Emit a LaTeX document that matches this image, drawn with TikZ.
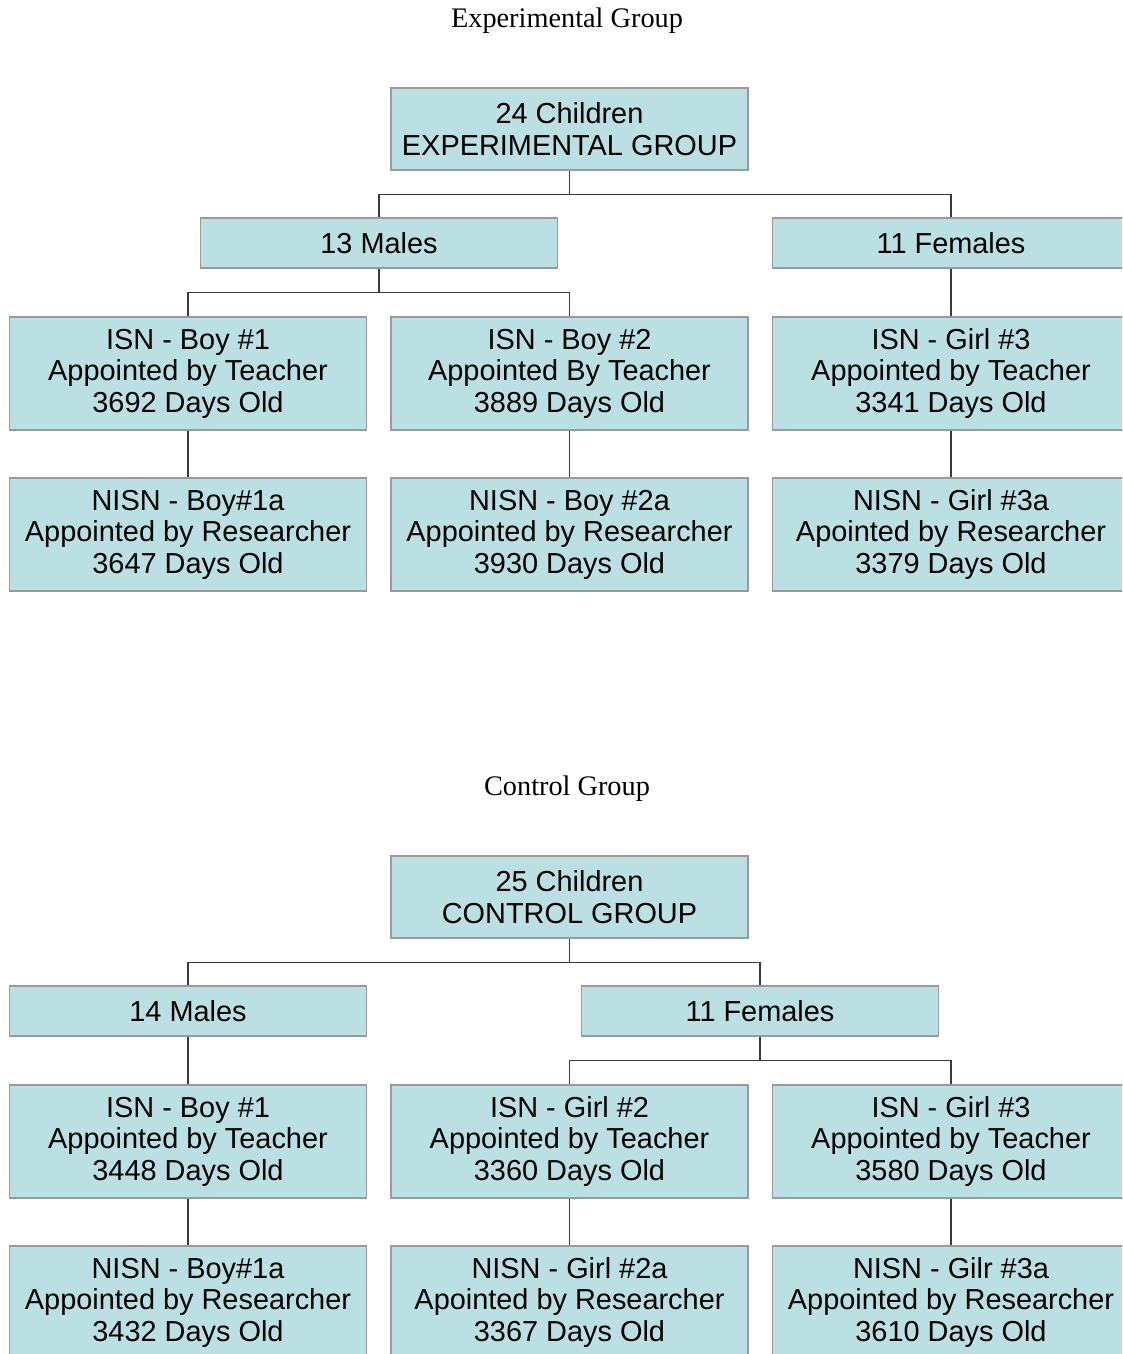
\documentclass[tikz,border=0pt]{standalone}
\usepackage{fontspec}
\setmainfont{Liberation Sans}
\newfontfamily\titlefont{Liberation Serif}
\definecolor{boxfill}{HTML}{BBE0E3}
\definecolor{boxline}{HTML}{9A9A9A}
\definecolor{conn}{HTML}{3A3A3A}
\begin{document}
\begin{tikzpicture}[x=1pt,y=-1pt,
  orgbox/.style={draw=boxline,line width=1.3pt,fill=boxfill,inner sep=0pt,
    minimum width=357pt,align=center,
    font=\fontsize{28.9}{31.5}\selectfont},
  tallbox/.style={orgbox,minimum height=113pt},
  rootbox/.style={orgbox,minimum height=82pt},
  midbox/.style={orgbox,minimum height=50pt},
  link/.style={draw=conn,line width=1.1pt},
  title/.style={font=\titlefont\fontsize{28.3}{32}\selectfont,inner sep=0pt}]
\useasboundingbox (0,0) rectangle (1122,1354);
\clip (0,0) rectangle (1122,1354);
\fill[white] (0,0) rectangle (1122,1354);
% ---------------- Experimental group
\node[title] (ttlE) at (567,21) {Experimental Group};
\node[rootbox] (eroot) at (569.5,129) {24 Children\\EXPERIMENTAL GROUP};
\node[midbox] (emale) at (379,243) {13 Males};
\node[midbox] (efem) at (951,243) {11 Females};
\node[tallbox] (eb1) at (188,373.5) {ISN - Boy \#1\\Appointed by Teacher\\3692 Days Old};
\node[tallbox] (eb2) at (569.5,373.5) {ISN - Boy \#2\\Appointed By Teacher\\3889 Days Old};
\node[tallbox] (eg3) at (951,373.5) {ISN - Girl \#3\\Appointed by Teacher\\3341 Days Old};
\node[tallbox] (eb1a) at (188,534.5) {NISN - Boy\#1a\\Appointed by Researcher\\3647 Days Old};
\node[tallbox] (eb2a) at (569.5,534.5) {NISN - Boy \#2a\\Appointed by Researcher\\3930 Days Old};
\node[tallbox] (eg3a) at (951,534.5) {NISN - Girl \#3a\\Apointed by Researcher\\3379 Days Old};
\draw[link] (eroot.south) -- ++(0,24) -| (emale.north);
\draw[link] (eroot.south) ++(0,24) -| (efem.north);
\draw[link] (emale.south) -- ++(0,24) -| (eb1.north);
\draw[link] (emale.south) ++(0,24) -| (eb2.north);
\draw[link] (efem.south) -- (eg3.north);
\draw[link] (eb1.south) -- (eb1a.north);
\draw[link] (eb2.south) -- (eb2a.north);
\draw[link] (eg3.south) -- (eg3a.north);
% ---------------- Control group
\node[title] (ttlC) at (567,789) {Control Group};
\node[rootbox] (croot) at (569.5,897) {25 Children\\CONTROL GROUP};
\node[midbox] (cmale) at (188,1011) {14 Males};
\node[midbox] (cfem) at (760,1011) {11 Females};
\node[tallbox] (cb1) at (188,1141.5) {ISN - Boy \#1\\Appointed by Teacher\\3448 Days Old};
\node[tallbox] (cg2) at (569.5,1141.5) {ISN - Girl \#2\\Appointed by Teacher\\3360 Days Old};
\node[tallbox] (cg3) at (951,1141.5) {ISN - Girl \#3\\Appointed by Teacher\\3580 Days Old};
\node[tallbox] (cb1a) at (188,1302.5) {NISN - Boy\#1a\\Appointed by Researcher\\3432 Days Old};
\node[tallbox] (cg2a) at (569.5,1302.5) {NISN - Girl \#2a\\Apointed by Researcher\\3367 Days Old};
\node[tallbox] (cg3a) at (951,1302.5) {NISN - Gilr \#3a\\Appointed by Researcher\\3610 Days Old};
\draw[link] (croot.south) -- ++(0,24) -| (cmale.north);
\draw[link] (croot.south) ++(0,24) -| (cfem.north);
\draw[link] (cfem.south) -- ++(0,24) -| (cg2.north);
\draw[link] (cfem.south) ++(0,24) -| (cg3.north);
\draw[link] (cmale.south) -- (cb1.north);
\draw[link] (cb1.south) -- (cb1a.north);
\draw[link] (cg2.south) -- (cg2a.north);
\draw[link] (cg3.south) -- (cg3a.north);
\end{tikzpicture}
\end{document}
